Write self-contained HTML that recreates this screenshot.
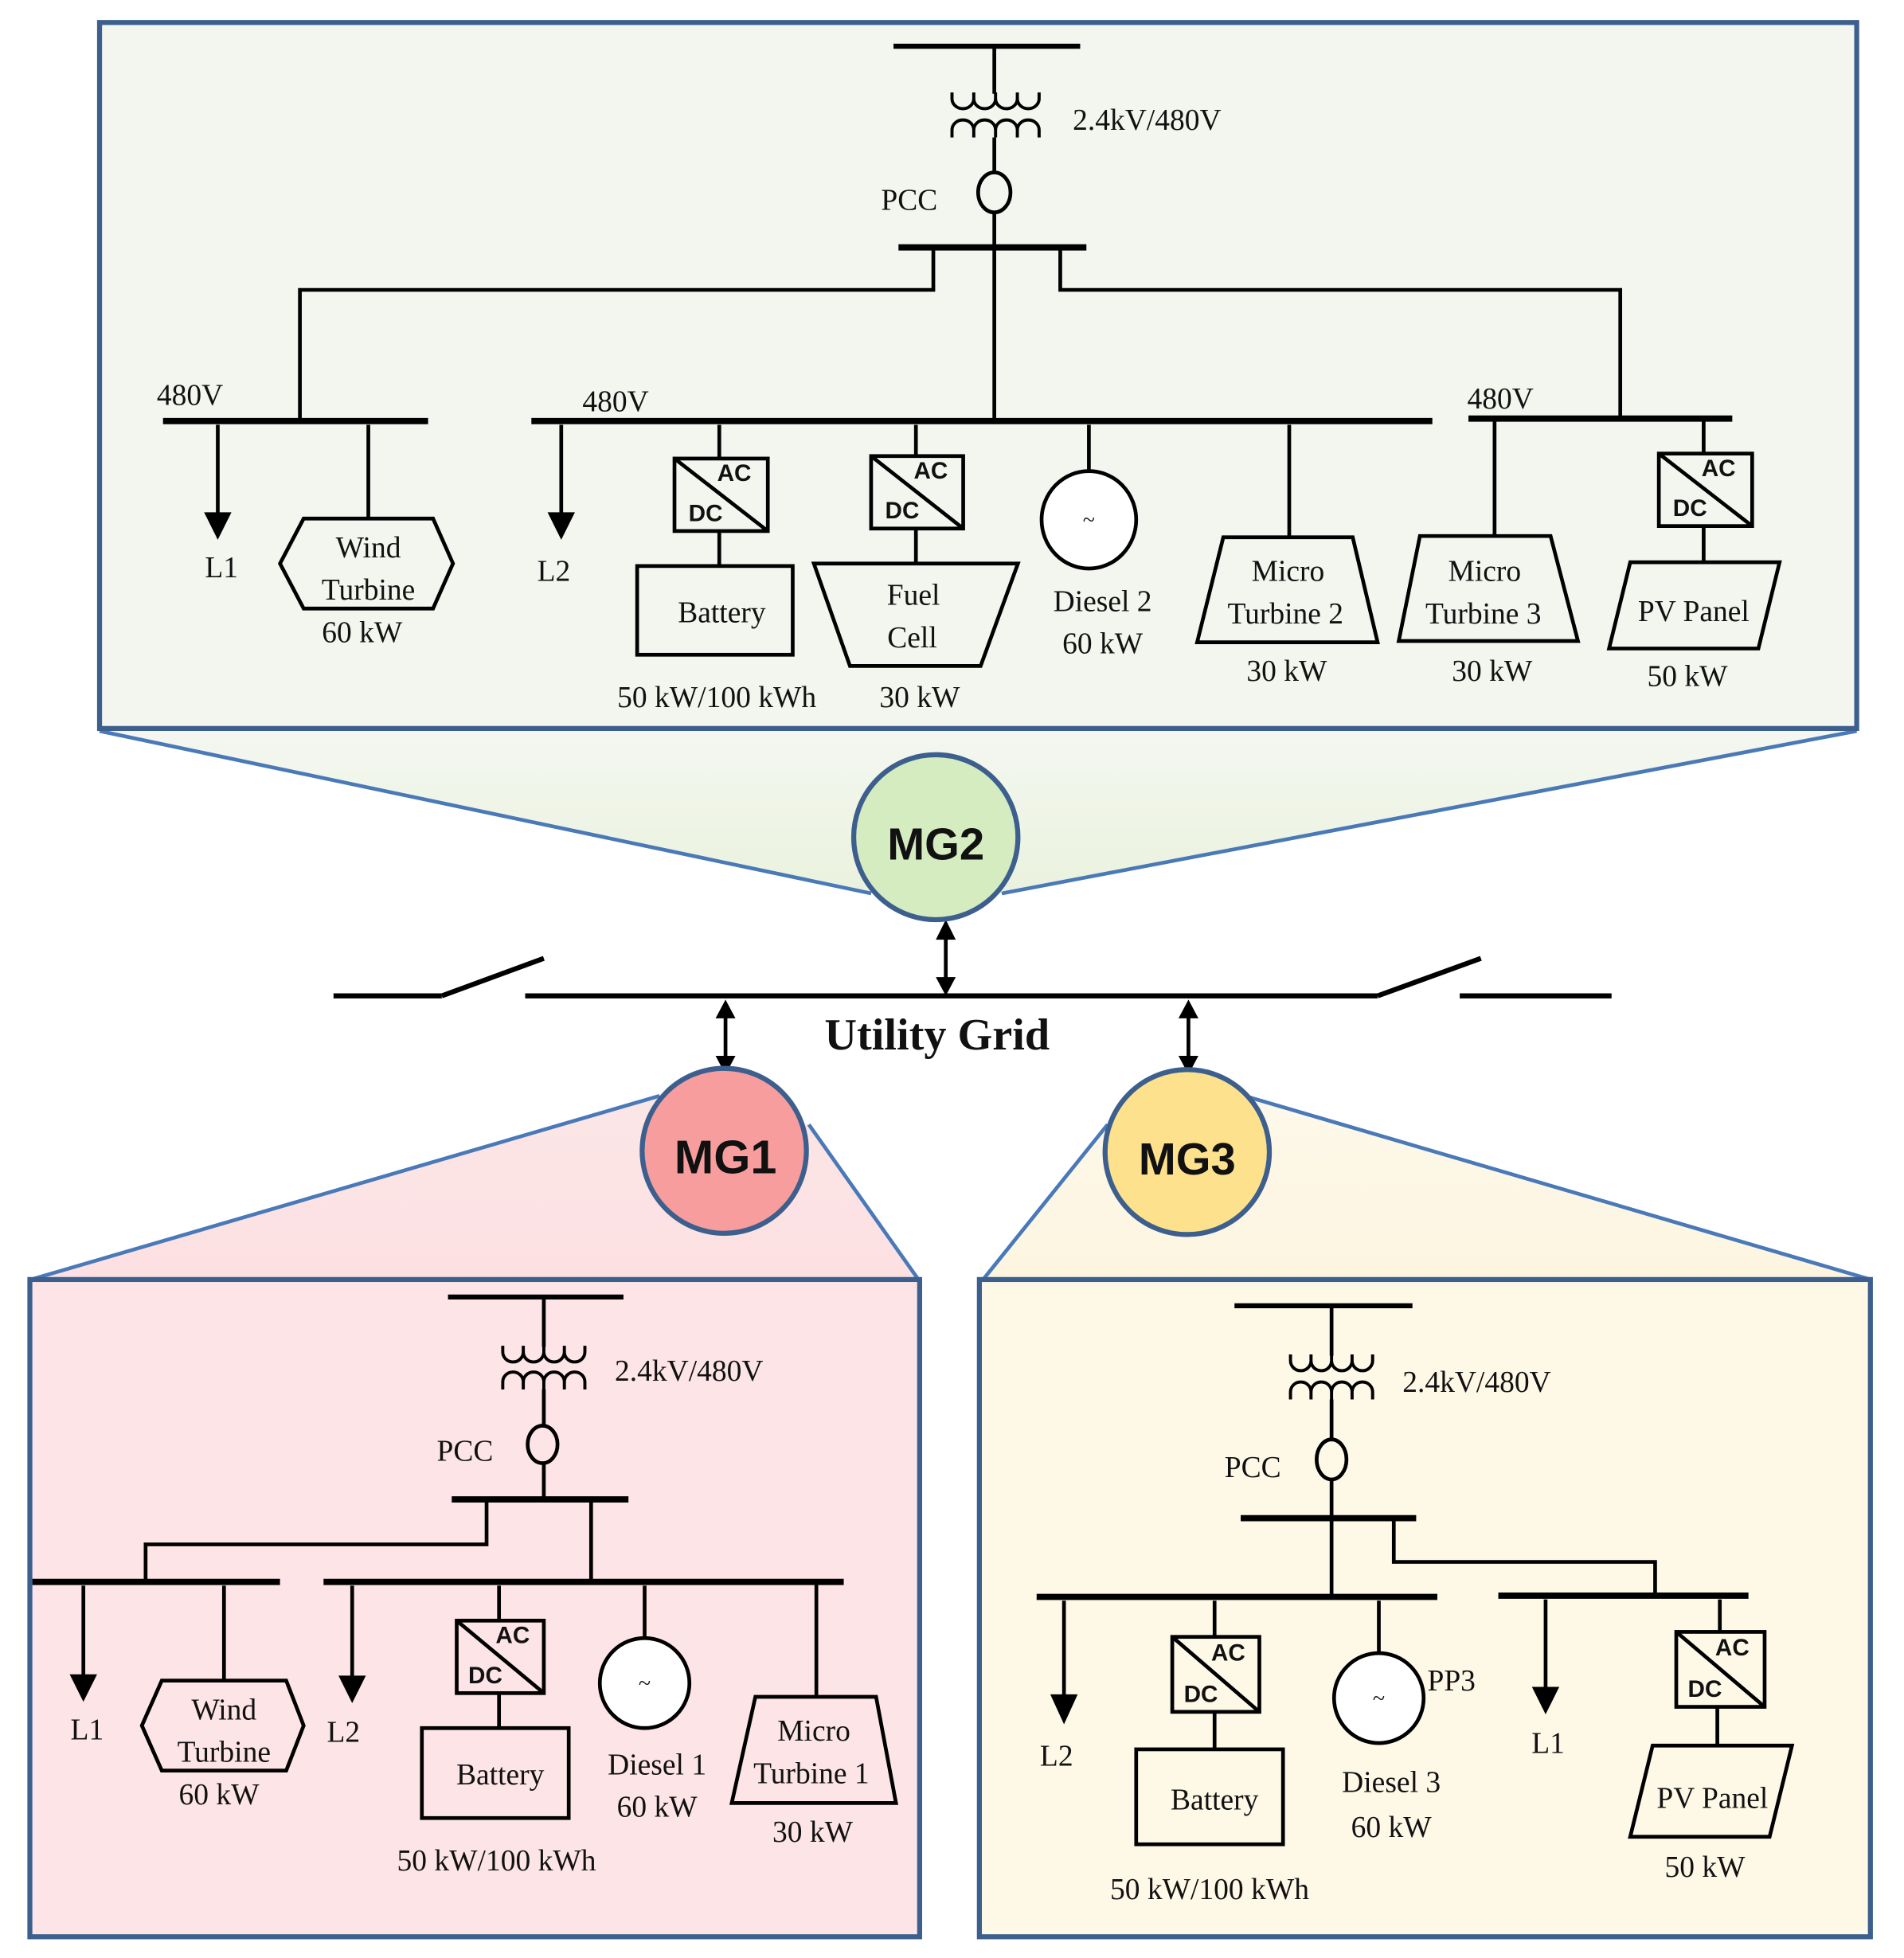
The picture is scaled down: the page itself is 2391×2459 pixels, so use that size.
<!DOCTYPE html>
<html><head><meta charset="utf-8"><style>
html,body{margin:0;padding:0;background:#fff;}
svg{display:block;}
text{font-family:"Liberation Serif",serif;font-size:24px;fill:#111;}
.b{font-family:"Liberation Sans",sans-serif;font-weight:bold;font-size:19px;}
</style></head><body>
<svg width="2391" height="2459" viewBox="0 0 1530 1567" preserveAspectRatio="none" xmlns="http://www.w3.org/2000/svg">
<defs>
<linearGradient id="g2" x1="0" y1="0" x2="0" y2="1"><stop offset="0" stop-color="#f4f7f0"/><stop offset="1" stop-color="#eaf2de"/></linearGradient>
<linearGradient id="g1" x1="0" y1="0" x2="0" y2="1"><stop offset="0" stop-color="#fbe6e6"/><stop offset="1" stop-color="#fde0e2"/></linearGradient>
<linearGradient id="g3" x1="0" y1="0" x2="0" y2="1"><stop offset="0" stop-color="#fdf8ea"/><stop offset="1" stop-color="#fdf5e0"/></linearGradient>
</defs>
<!-- funnels -->
<polygon points="80,585 1492,585 805,715 700,715" fill="url(#g2)" stroke="none"/>
<line x1="80" y1="585" x2="700" y2="715" stroke="#4a79b8" stroke-width="3"/>
<line x1="1492" y1="585" x2="805" y2="715" stroke="#4a79b8" stroke-width="3"/>
<polygon points="25,1024 738,1024 650,900 530,877" fill="url(#g1)"/>
<line x1="25" y1="1024" x2="530" y2="877" stroke="#4a79b8" stroke-width="3"/>
<line x1="738" y1="1024" x2="650" y2="900" stroke="#4a79b8" stroke-width="3"/>
<polygon points="790,1024 1503,1024 1000,877 890,900" fill="url(#g3)"/>
<line x1="790" y1="1024" x2="890" y2="900" stroke="#4a79b8" stroke-width="3"/>
<line x1="1503" y1="1024" x2="1000" y2="877" stroke="#4a79b8" stroke-width="3"/>

<!-- panels -->
<rect x="80" y="18" width="1412" height="565" fill="#f3f6ef" stroke="#3d5f8e" stroke-width="4"/>
<rect x="24" y="1024" width="715" height="526" fill="#fde4e6" stroke="#3d5f8e" stroke-width="4"/>
<rect x="787" y="1024" width="716" height="526" fill="#fef8e7" stroke="#3d5f8e" stroke-width="4"/>

<g stroke="#000" fill="none" stroke-width="3">
<!-- ===== MG2 ===== -->
<line x1="718" y1="37" x2="868" y2="37" stroke-width="4"/>
<line x1="799" y1="37" x2="799" y2="75"/>
<path d="M765,74 v5 a8.75,8 0 0 0 17.5,0 v-5 M782.5,79 a8.75,8 0 0 0 17.5,0 v-5 M800,79 a8.75,8 0 0 0 17.5,0 v-5 M817.5,79 a8.75,8 0 0 0 17.5,0 v-5" stroke-width="2.5"/>
<path d="M765,110 v-6 a8.75,8 0 0 1 17.5,0 v6 M782.5,104 a8.75,8 0 0 1 17.5,0 v6 M800,104 a8.75,8 0 0 1 17.5,0 v6 M817.5,104 a8.75,8 0 0 1 17.5,0 v6" stroke-width="2.5"/>
<line x1="799" y1="110" x2="799" y2="139"/>
<ellipse cx="799" cy="154" rx="13" ry="16"/>
<line x1="799" y1="170" x2="799" y2="336"/>
<line x1="722" y1="198" x2="873" y2="198" stroke-width="5"/>
<polyline points="750,198 750,232 241,232 241,336"/>
<polyline points="852,198 852,232 1302,232 1302,334"/>
<line x1="131" y1="337" x2="344" y2="337" stroke-width="5"/>
<line x1="427" y1="337" x2="1151" y2="337" stroke-width="5"/>
<line x1="1180" y1="335" x2="1392" y2="335" stroke-width="5"/>
<line x1="175" y1="340" x2="175" y2="412"/>
<line x1="296" y1="340" x2="296" y2="415"/>
<polygon points="244,415 348,415 364,451 348,487 244,487 225,451"/>
<line x1="451" y1="340" x2="451" y2="412"/>
<line x1="578" y1="340" x2="578" y2="367"/>
<rect x="542" y="367" width="75" height="58"/><line x1="542" y1="367" x2="617" y2="425"/>
<line x1="578" y1="425" x2="578" y2="453"/>
<rect x="512" y="453" width="125" height="71"/>
<line x1="736" y1="340" x2="736" y2="365"/>
<rect x="700" y="365" width="74" height="58"/><line x1="700" y1="365" x2="774" y2="423"/>
<line x1="736" y1="423" x2="736" y2="451"/>
<polygon points="654,451 818,451 788,533 683,533"/>
<line x1="875" y1="340" x2="875" y2="377"/>
<ellipse cx="875" cy="416" rx="38" ry="39" fill="#fff"/>
<line x1="1036" y1="340" x2="1036" y2="430"/>
<polygon points="983,430 1087,430 1107,514 962,514"/>
<line x1="1201" y1="335" x2="1201" y2="429"/>
<polygon points="1141,429 1246,429 1268,513 1124,513"/>
<line x1="1369" y1="335" x2="1369" y2="363"/>
<rect x="1333" y="363" width="75" height="58"/><line x1="1333" y1="363" x2="1408" y2="421"/>
<line x1="1369" y1="421" x2="1369" y2="450"/>
<polygon points="1310,450 1430,450 1413,519 1293,519"/>

<!-- ===== Utility grid ===== -->
<line x1="268" y1="797" x2="355" y2="797" stroke-width="4"/>
<line x1="355" y1="797" x2="437" y2="767" stroke-width="4"/>
<line x1="422" y1="797" x2="1107" y2="797" stroke-width="4"/>
<line x1="1107" y1="797" x2="1190" y2="767" stroke-width="4"/>
<line x1="1173" y1="797" x2="1295" y2="797" stroke-width="4"/>
<line x1="760" y1="748" x2="760" y2="784"/>
<line x1="583" y1="812" x2="583" y2="848"/>
<line x1="955" y1="812" x2="955" y2="848"/>

<!-- ===== MG1 ===== -->
<line x1="360" y1="1038" x2="501" y2="1038" stroke-width="4"/>
<line x1="437" y1="1038" x2="437" y2="1078"/>
<path d="M404,1077 v5 a8.25,8 0 0 0 16.5,0 v-5 M420.5,1082 a8.25,8 0 0 0 16.5,0 v-5 M437,1082 a8.25,8 0 0 0 16.5,0 v-5 M453.5,1082 a8.25,8 0 0 0 16.5,0 v-5" stroke-width="2.5"/>
<path d="M404,1112 v-6 a8.25,8 0 0 1 16.5,0 v6 M420.5,1106 a8.25,8 0 0 1 16.5,0 v6 M437,1106 a8.25,8 0 0 1 16.5,0 v6 M453.5,1106 a8.25,8 0 0 1 16.5,0 v6" stroke-width="2.5"/>
<line x1="437" y1="1112" x2="437" y2="1141"/>
<ellipse cx="436" cy="1156" rx="12" ry="15"/>
<line x1="437" y1="1171" x2="437" y2="1200"/>
<line x1="363" y1="1200" x2="505" y2="1200" stroke-width="5"/>
<polyline points="391,1200 391,1236 117,1236 117,1266"/>
<line x1="475" y1="1200" x2="475" y2="1264"/>
<line x1="26" y1="1266" x2="225" y2="1266" stroke-width="5"/>
<line x1="260" y1="1266" x2="678" y2="1266" stroke-width="5"/>
<line x1="67" y1="1269" x2="67" y2="1342"/>
<line x1="180" y1="1269" x2="180" y2="1345"/>
<polygon points="130,1345 230,1345 244,1381 230,1417 130,1417 114,1381"/>
<line x1="283" y1="1269" x2="283" y2="1343"/>
<line x1="401" y1="1269" x2="401" y2="1297"/>
<rect x="367" y="1297" width="70" height="58"/><line x1="367" y1="1297" x2="437" y2="1355"/>
<line x1="401" y1="1355" x2="401" y2="1383"/>
<rect x="339" y="1383" width="118" height="72"/>
<line x1="518" y1="1269" x2="518" y2="1311"/>
<ellipse cx="518" cy="1347" rx="36" ry="36" fill="#fff"/>
<line x1="656" y1="1266" x2="656" y2="1358"/>
<polygon points="607,1358 704,1358 720,1443 588,1443"/>

<!-- ===== MG3 ===== -->
<line x1="992" y1="1045" x2="1135" y2="1045" stroke-width="4"/>
<line x1="1070" y1="1045" x2="1070" y2="1085"/>
<path d="M1037,1084 v5 a8.25,8 0 0 0 16.5,0 v-5 M1053.5,1089 a8.25,8 0 0 0 16.5,0 v-5 M1070,1089 a8.25,8 0 0 0 16.5,0 v-5 M1086.5,1089 a8.25,8 0 0 0 16.5,0 v-5" stroke-width="2.5"/>
<path d="M1037,1120 v-6 a8.25,8 0 0 1 16.5,0 v6 M1053.5,1114 a8.25,8 0 0 1 16.5,0 v6 M1070,1114 a8.25,8 0 0 1 16.5,0 v6 M1086.5,1114 a8.25,8 0 0 1 16.5,0 v6" stroke-width="2.5"/>
<line x1="1070" y1="1120" x2="1070" y2="1152"/>
<ellipse cx="1070" cy="1168" rx="12" ry="16"/>
<line x1="1070" y1="1184" x2="1070" y2="1278"/>
<line x1="997" y1="1215" x2="1138" y2="1215" stroke-width="5"/>
<polyline points="1120,1215 1120,1250 1330,1250 1330,1277"/>
<line x1="833" y1="1278" x2="1155" y2="1278" stroke-width="5"/>
<line x1="1204" y1="1277" x2="1405" y2="1277" stroke-width="5"/>
<line x1="855" y1="1281" x2="855" y2="1358"/>
<line x1="976" y1="1281" x2="976" y2="1310"/>
<rect x="942" y="1310" width="70" height="60"/><line x1="942" y1="1310" x2="1012" y2="1370"/>
<line x1="976" y1="1370" x2="976" y2="1400"/>
<rect x="913" y="1400" width="118" height="76"/>
<line x1="1108" y1="1281" x2="1108" y2="1323"/>
<ellipse cx="1108" cy="1359" rx="36" ry="36" fill="#fff"/>
<line x1="1242" y1="1280" x2="1242" y2="1352"/>
<line x1="1382" y1="1280" x2="1382" y2="1306"/>
<rect x="1347" y="1306" width="71" height="60"/><line x1="1347" y1="1306" x2="1418" y2="1366"/>
<line x1="1380" y1="1366" x2="1380" y2="1397"/>
<polygon points="1328,1397 1440,1397 1422,1470 1310,1470"/>
</g>

<!-- arrowheads -->
<g fill="#000">
<polygon points="164,410 186,410 175,432"/>
<polygon points="440,410 462,410 451,432"/>
<polygon points="56,1340 78,1340 67,1362"/>
<polygon points="272,1341 294,1341 283,1363"/>
<polygon points="844,1356 866,1356 855,1380"/>
<polygon points="1231,1350 1253,1350 1242,1372"/>
<polygon points="752,752 768,752 760,736"/><polygon points="752,782 768,782 760,797"/>
<polygon points="575,815 591,815 583,800"/><polygon points="575,845 591,845 583,860"/>
<polygon points="947,815 963,815 955,800"/><polygon points="947,845 963,845 955,860"/>
</g>

<!-- circles -->
<circle cx="752" cy="670" r="66" fill="#d5ebc0" stroke="#3d5f8e" stroke-width="4"/>
<circle cx="582" cy="921" r="66" fill="#f79d9d" stroke="#3d5f8e" stroke-width="4"/>
<circle cx="954" cy="922" r="66" fill="#fde18c" stroke="#3d5f8e" stroke-width="4"/>
<text x="752" y="688" text-anchor="middle" style="font-family:'Liberation Sans',sans-serif;font-weight:bold;font-size:36px">MG2</text>
<text x="583" y="939" text-anchor="middle" style="font-family:'Liberation Sans',sans-serif;font-weight:bold;font-size:38px">MG1</text>
<text x="954" y="940" text-anchor="middle" style="font-family:'Liberation Sans',sans-serif;font-weight:bold;font-size:36px">MG3</text>
<text x="753" y="840" text-anchor="middle" style="font-weight:bold;font-size:36px">Utility Grid</text>

<!-- MG2 texts -->
<text x="862" y="104">2.4kV/480V</text>
<text x="708" y="168">PCC</text>
<text x="126" y="324">480V</text>
<text x="468" y="329">480V</text>
<text x="1179" y="327">480V</text>
<text x="178" y="462" text-anchor="middle">L1</text>
<text x="445" y="465" text-anchor="middle">L2</text>
<text x="296" y="446" text-anchor="middle">Wind</text>
<text x="296" y="480" text-anchor="middle">Turbine</text>
<text x="291" y="514" text-anchor="middle">60 kW</text>
<text class="b" x="590" y="385" text-anchor="middle">AC</text><text class="b" x="567" y="417" text-anchor="middle">DC</text>
<text x="580" y="498" text-anchor="middle">Battery</text>
<text x="576" y="566" text-anchor="middle">50 kW/100 kWh</text>
<text class="b" x="748" y="383" text-anchor="middle">AC</text><text class="b" x="725" y="415" text-anchor="middle">DC</text>
<text x="734" y="484" text-anchor="middle">Fuel</text>
<text x="733" y="518" text-anchor="middle">Cell</text>
<text x="739" y="566" text-anchor="middle">30 kW</text>
<text x="875" y="422" text-anchor="middle" style="font-size:18px">~</text>
<text x="886" y="489" text-anchor="middle">Diesel 2</text>
<text x="886" y="523" text-anchor="middle">60 kW</text>
<text x="1035" y="465" text-anchor="middle">Micro</text>
<text x="1033" y="499" text-anchor="middle">Turbine 2</text>
<text x="1034" y="545" text-anchor="middle">30 kW</text>
<text x="1193" y="465" text-anchor="middle">Micro</text>
<text x="1192" y="499" text-anchor="middle">Turbine 3</text>
<text x="1199" y="545" text-anchor="middle">30 kW</text>
<text class="b" x="1381" y="381" text-anchor="middle">AC</text><text class="b" x="1358" y="413" text-anchor="middle">DC</text>
<text x="1361" y="497" text-anchor="middle">PV Panel</text>
<text x="1356" y="549" text-anchor="middle">50 kW</text>

<!-- MG1 texts -->
<text x="494" y="1105">2.4kV/480V</text>
<text x="351" y="1169">PCC</text>
<text x="70" y="1392" text-anchor="middle">L1</text>
<text x="276" y="1394" text-anchor="middle">L2</text>
<text x="180" y="1376" text-anchor="middle">Wind</text>
<text x="180" y="1410" text-anchor="middle">Turbine</text>
<text x="176" y="1444" text-anchor="middle">60 kW</text>
<text class="b" x="412" y="1315" text-anchor="middle">AC</text><text class="b" x="390" y="1347" text-anchor="middle">DC</text>
<text x="402" y="1428" text-anchor="middle">Battery</text>
<text x="399" y="1497" text-anchor="middle">50 kW/100 kWh</text>
<text x="518" y="1353" text-anchor="middle" style="font-size:18px">~</text>
<text x="528" y="1420" text-anchor="middle">Diesel 1</text>
<text x="528" y="1454" text-anchor="middle">60 kW</text>
<text x="654" y="1393" text-anchor="middle">Micro</text>
<text x="652" y="1427" text-anchor="middle">Turbine 1</text>
<text x="653" y="1474" text-anchor="middle">30 kW</text>

<!-- MG3 texts -->
<text x="1127" y="1114">2.4kV/480V</text>
<text x="984" y="1182">PCC</text>
<text x="849" y="1413" text-anchor="middle">L2</text>
<text x="1244" y="1403" text-anchor="middle">L1</text>
<text class="b" x="987" y="1329" text-anchor="middle">AC</text><text class="b" x="965" y="1362" text-anchor="middle">DC</text>
<text x="976" y="1448" text-anchor="middle">Battery</text>
<text x="972" y="1520" text-anchor="middle">50 kW/100 kWh</text>
<text x="1108" y="1365" text-anchor="middle" style="font-size:18px">~</text>
<text x="1147" y="1353">PP3</text>
<text x="1118" y="1434" text-anchor="middle">Diesel 3</text>
<text x="1118" y="1470" text-anchor="middle">60 kW</text>
<text class="b" x="1392" y="1325" text-anchor="middle">AC</text><text class="b" x="1370" y="1358" text-anchor="middle">DC</text>
<text x="1376" y="1447" text-anchor="middle">PV Panel</text>
<text x="1370" y="1502" text-anchor="middle">50 kW</text>
</svg>
</body></html>
